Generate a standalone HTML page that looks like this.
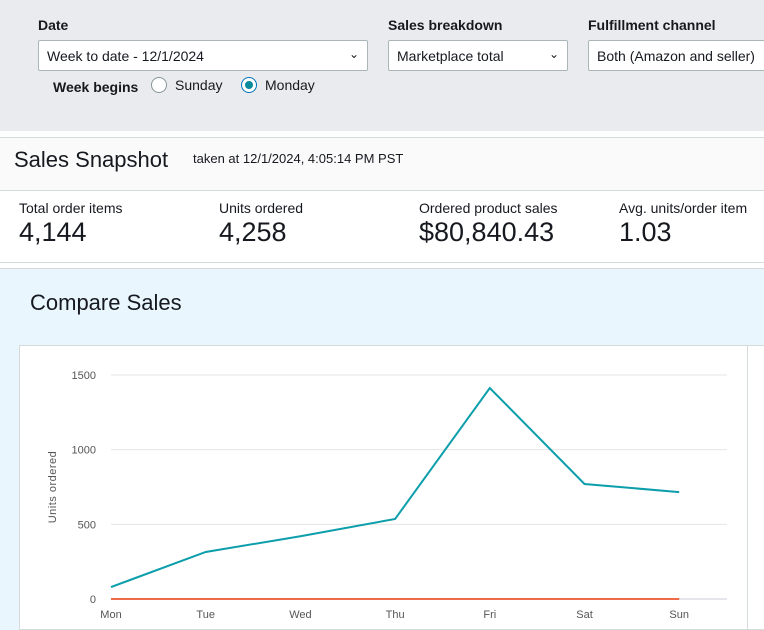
<!DOCTYPE html>
<html><head><meta charset="utf-8"><style>
*{box-sizing:border-box;margin:0;padding:0}
body{width:764px;height:630px;overflow:hidden;background:#fff;font-family:"Liberation Sans",sans-serif;color:#16191f;position:relative}
.abs{position:absolute}
.lbl{font-weight:bold;font-size:14px;color:#16191f}
.sel{position:absolute;top:40px;height:31px;border:1px solid #aab7b8;background:#fff;border-radius:2px;font-size:14px;padding:7px 8px;white-space:nowrap;overflow:hidden}
.chev{position:absolute;right:8px;top:6px;font-size:12px}
.radio{position:absolute;top:77px;width:16px;height:16px;border:1px solid #879596;border-radius:50%;background:#fff}
.mlab{position:absolute;top:200px;font-size:14px}
.mval{position:absolute;top:217px;font-size:27px}
</style></head><body>
<div class="abs" style="left:0;top:0;width:764px;height:131px;background:#eaebee"></div>
<div class="abs lbl" style="left:38px;top:17px">Date</div>
<div class="sel" style="left:38px;width:330px">Week to date - 12/1/2024<span class="chev">&#8964;</span></div>
<div class="abs lbl" style="left:388px;top:17px">Sales breakdown</div>
<div class="sel" style="left:388px;width:180px">Marketplace total<span class="chev">&#8964;</span></div>
<div class="abs lbl" style="left:588px;top:17px">Fulfillment channel</div>
<div class="sel" style="left:588px;width:190px">Both (Amazon and seller)</div>
<div class="abs lbl" style="left:53px;top:79px">Week begins</div>
<div class="radio" style="left:151px"></div>
<div class="abs" style="left:175px;top:77px;font-size:14px">Sunday</div>
<div class="radio" style="left:241px;border-color:#0073bb"><div style="position:absolute;left:3px;top:3px;width:8px;height:8px;border-radius:50%;background:#0a8a9a"></div></div>
<div class="abs" style="left:265px;top:77px;font-size:14px">Monday</div>

<div class="abs" style="left:0;top:137px;width:764px;height:54px;background:#fafafa;border-top:1px solid #d5dbdb;border-bottom:1px solid #d5dbdb"></div>
<div class="abs" style="left:14px;top:147px;font-size:22px">Sales Snapshot</div>
<div class="abs" style="left:193px;top:151px;font-size:13px">taken at 12/1/2024, 4:05:14 PM PST</div>

<div class="mlab" style="left:19px">Total order items</div>
<div class="mval" style="left:19px">4,144</div>
<div class="mlab" style="left:219px">Units ordered</div>
<div class="mval" style="left:219px">4,258</div>
<div class="mlab" style="left:419px">Ordered product sales</div>
<div class="mval" style="left:419px">$80,840.43</div>
<div class="mlab" style="left:619px">Avg. units/order item</div>
<div class="mval" style="left:619px">1.03</div>

<div class="abs" style="left:0;top:262px;width:764px;height:1px;background:#d5dbdb"></div>
<div class="abs" style="left:0;top:268px;width:764px;height:362px;background:#eaf6fe;border-top:1px solid #d5dbdb"></div>
<div class="abs" style="left:30px;top:290px;font-size:22px">Compare Sales</div>
<div class="abs" style="left:19px;top:345px;width:745px;height:285px;background:#fff;border:1px solid #d5dbdb;border-right:none"></div>
<div class="abs" style="left:747px;top:345px;width:1px;height:285px;background:#d5dbdb"></div>

<svg class="abs" style="left:0;top:0" width="764" height="630" id="chart"></svg>
<script>
const categories=["Mon","Tue","Wed","Thu","Fri","Sat","Sun"];
const unitsThisWeek=[80,315,420,536,1413,770,716];
const unitsComparison=[0,0,0,0,0,0,0];
const yTicks=[0,500,1000,1500];
const NS="http://www.w3.org/2000/svg";
const svg=document.getElementById('chart');
const x0=111,step=94.7,yBase=599,yScale=224/1500,plotRight=727;
const xs=i=>x0+i*step, ys=v=>yBase-v*yScale;
function mk(t,a){const e=document.createElementNS(NS,t);for(const k in a)e.setAttribute(k,a[k]);svg.appendChild(e);return e;}
yTicks.forEach(v=>{
 const g=mk('line',{x1:x0,x2:plotRight,y1:ys(v),y2:ys(v),stroke:v===0?'#c8ccd8':'#e4e4e4','stroke-width':1});
 
 
 const t=mk('text',{x:96,y:ys(v)+4,'text-anchor':'end','font-size':11,fill:'#555','font-family':'Liberation Sans, sans-serif'});
 t.textContent=v;
 
 
});
categories.forEach((c,i)=>{
 const t=mk('text',{x:xs(i),y:618,'text-anchor':'middle','font-size':11,fill:'#555','font-family':'Liberation Sans, sans-serif'});
 t.textContent=c;
 
 
});
const yt=mk('text',{x:0,y:0,transform:'translate(56,487) rotate(-90)','text-anchor':'middle','font-size':11,fill:'#555','font-family':'Liberation Sans, sans-serif','letter-spacing':'0.5'});
yt.textContent='Units ordered';


const l2=mk('polyline',{points:unitsComparison.map((v,i)=>xs(i)+','+ys(v)).join(' '),fill:'none',stroke:'#e8380d','stroke-width':1.5});


const l1=mk('polyline',{points:unitsThisWeek.map((v,i)=>xs(i)+','+ys(v)).join(' '),fill:'none',stroke:'#0c9eab','stroke-width':2});


</script>
</body></html>
